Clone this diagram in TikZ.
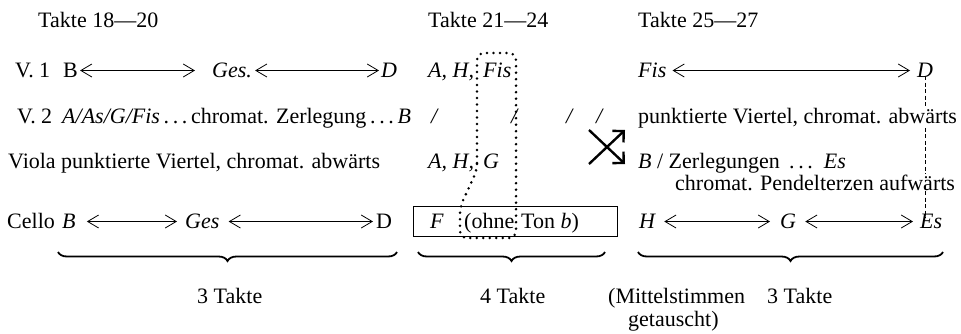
\documentclass[tikz,border=0pt]{standalone}
\usepackage{fontspec}
\setmainfont{Liberation Serif}
\usetikzlibrary{arrows.meta,decorations.pathreplacing}
\begin{document}
\begin{tikzpicture}[x=1pt,y=-1pt,
 txt/.style={anchor=base west,inner sep=0pt,font=\fontsize{22}{26}\selectfont},
 dbl/.style={line width=0.8pt,{Straight Barb[length=11pt,width=13pt]}-{Straight Barb[length=11pt,width=13pt]}},
 brc/.style={decorate,decoration={brace,mirror,amplitude=9pt},line width=1.8pt},
 dotloop/.style={line width=2.8pt,line cap=round,dash pattern=on 0pt off 6.5pt},
 dashv/.style={line width=1.3pt,dash pattern=on 4pt off 2.5pt},
 cross/.style={line width=2.4pt,-{Straight Barb[length=8pt,width=16pt]}},
 tbox/.style={draw,line width=1.1pt,inner sep=0pt,anchor=north west}]
\useasboundingbox (0,0) rectangle (961,333);
% headings
\node[txt] (h1) at (38,27) {Takte 18—20};
\node[txt] (h2) at (428,27) {Takte 21—24};
\node[txt] (h3) at (638,27) {Takte 25—27};
% V. 1
\node[txt] (v1) at (15,77) {V.\ 1};
\node[txt] (v1B) at (63,77) {B};
\node[txt] (v1G) at (212,77) {\textit{Ges.}};
\node[txt] (v1D) at (381,77) {\textit{D}};
\node[txt] (v1m) at (428,77) {\textit{A, H,}};
\node[txt] (v1m2) at (483,77) {\textit{Fis}};
\node[txt] (v1F) at (638,77) {\textit{Fis}};
\node[txt] (d3) at (917,77) {\textit{D}};
\draw[dbl] ([xshift=2pt,yshift=6.5pt]v1B.base east) -- ([xshift=-17pt,yshift=6.5pt]v1G.base west);
\draw[dbl] ([xshift=3pt,yshift=6.5pt]v1G.base east) -- ([xshift=-2pt,yshift=6.5pt]v1D.base west);
\draw[dbl] ([xshift=6pt,yshift=6.5pt]v1F.base east) -- ([xshift=-7pt,yshift=6.5pt]d3.base west);
% V. 2
\node[txt] (v2) at (17,123) {V.\ 2};
\node[txt] (v2t) at (62,123) {\textit{A/As/G/Fis}\,.\,.\,.\,chromat. Zerlegung\,.\,.\,.\,\textit{B}};
\node[txt] (s1) at (431,123) {\textit{/}};
\node[txt] (s2) at (511,123) {\textit{/}};
\node[txt] (s3) at (566,123) {\textit{/}};
\node[txt] (s4) at (596,123) {\textit{/}};
\node[txt] (r2) at (638,123) {punktierte Viertel, chromat. abwärts};
% Viola
\node[txt] (va) at (8,168) {Viola punktierte Viertel, chromat. abwärts};
\node[txt] (vam) at (428,168) {\textit{A, H,}};
\node[txt] (vam2) at (483,168) {\textit{G}};
\node[txt] (r3) at (638,168) {\textit{B} / Zerlegungen \,.\,.\,.\, \textit{Es}};
\node[txt] (r3b) at (675,190) {chromat. Pendelterzen aufwärts};
% cross arrows
\coordinate (xa1) at (589,164);
\coordinate (xa2) at (625,130);
\coordinate (xb1) at (589,130);
\coordinate (xb2) at (625,164);
\draw[cross] (xa1) -- (xa2);
\draw[cross] (xb1) -- (xb2);
% Cello
\node[txt] (vc) at (7,228) {Cello};
\node[txt] (vcB) at (62,228) {\textit{B}};
\node[txt] (vcG) at (185,228) {\textit{Ges}};
\node[txt] (vcD) at (376,228) {D};
\draw[dbl] ([xshift=11pt,yshift=6.5pt]vcB.base east) -- ([xshift=-8pt,yshift=6.5pt]vcG.base west);
\draw[dbl] ([xshift=9pt,yshift=6.5pt]vcG.base east) -- ([xshift=-3pt,yshift=6.5pt]vcD.base west);
\node[tbox,minimum width=204pt,minimum height=30pt] (box) at (413,206) {};
\node[txt] (vcF) at (430,228) {\textit{F}};
\node[txt] (vco) at (464,228) {(ohne};
\node[txt] (vco2) at (521,228) {Ton \textit{b})};
\node[txt] (vcH) at (639,228) {\textit{H}};
\node[txt] (vcG2) at (780,228) {\textit{G}};
\node[txt] (es) at (920,228) {\textit{Es}};
\draw[dbl] ([xshift=8pt,yshift=6.5pt]vcH.base east) -- ([xshift=-10pt,yshift=6.5pt]vcG2.base west);
\draw[dbl] ([xshift=9pt,yshift=6.5pt]vcG2.base east) -- ([xshift=-7pt,yshift=6.5pt]es.base west);
% dotted loop
\draw[dotloop,rounded corners=7pt] (477,170) -- (477,53) -- (516,53) -- (516,238) -- (460,238) -- (460,207) -- cycle;
% dashed vertical
\draw[dashv] ([yshift=1pt]d3.south) -- (d3.south |- r2.north);
\draw[dashv] (d3.south |- r2.south) -- (d3.south |- r3b.north);
\draw[dashv] ([yshift=6pt]d3.south |- r3b.south) -- ([yshift=-4pt]d3.south |- es.north);
% braces
\coordinate (b1l) at (58,252);
\coordinate (b1r) at (397,252);
\coordinate (b2l) at (418,252);
\coordinate (b2r) at (605,252);
\coordinate (b3l) at (638,252);
\coordinate (b3r) at (943,252);
\draw[brc] (b1l) -- (b1r);
\draw[brc] (b2l) -- (b2r);
\draw[brc] (b3l) -- (b3r);
% labels
\node[txt] (l1) at (197,303) {3 Takte};
\node[txt] (l2) at (480,303) {4 Takte};
\node[txt] (l3) at (608,303) {(Mittelstimmen};
\node[txt] (l3b) at (628,326) {getauscht)};
\node[txt] (l4) at (767,303) {3 Takte};
\end{tikzpicture}
\end{document}
